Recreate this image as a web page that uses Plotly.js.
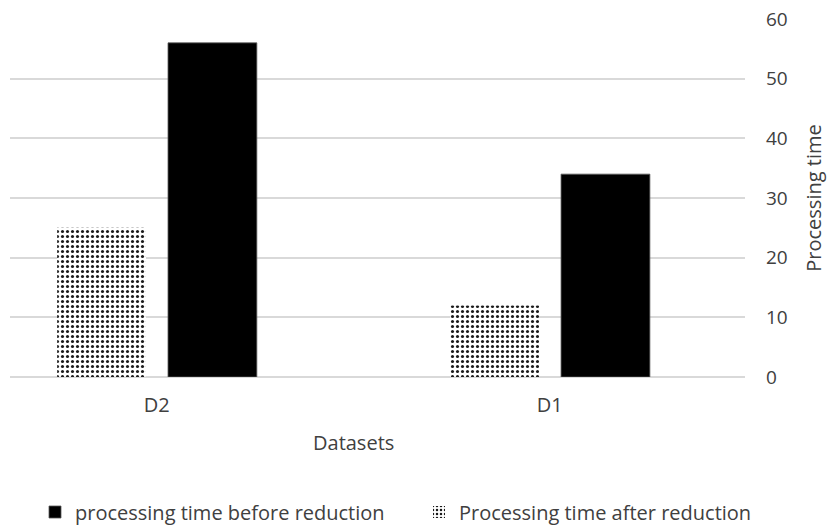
<!DOCTYPE html>
<html>
<head>
<meta charset="utf-8">
<script src="https://cdn.plot.ly/plotly-3.0.1.min.js"></script>
<style>
  html, body { margin: 0; padding: 0; background: #ffffff; }
  #chart { width: 829px; height: 526px; }
</style>
</head>
<body>
<div id="chart"></div>
<script>
// Processing time per dataset, before and after reduction
const datasets = ['D2', 'D1'];
const timeAfterReduction = [25, 12];
const timeBeforeReduction = [56, 34];
const yTicks = [0, 10, 20, 30, 40, 50, 60];

const textColor = '#404040';
const fontFamily = '"Open Sans", "Noto Sans", sans-serif';

const traces = [
  {
    type: 'bar',
    name: 'Processing time after reduction',
    x: datasets,
    y: timeAfterReduction,
    width: 0.226,
    offset: -0.253,
    legend: 'legend2',
    marker: {
      color: '#ffffff',
      line: { width: 0 },
      pattern: { shape: '.', fgcolor: '#1a1a1a', bgcolor: '#ffffff', size: 5, solidity: 0.3 }
    }
  },
  {
    type: 'bar',
    name: 'processing time before reduction',
    x: datasets,
    y: timeBeforeReduction,
    width: 0.226,
    offset: 0.029,
    legend: 'legend',
    marker: { color: '#000000', line: { color: '#595959', width: 0.8 } }
  }
];

// one legend box per series so both sit on a single row at fixed spots
function legendBox(xPx) {
  return {
    orientation: 'h',
    xref: 'container',
    yref: 'container',
    x: xPx / 829,
    xanchor: 'left',
    y: 14 / 526,
    yanchor: 'middle',
    bgcolor: 'rgba(0,0,0,0)',
    font: { family: fontFamily, size: 20, color: textColor }
  };
}

const layout = {
  width: 829,
  height: 526,
  paper_bgcolor: '#ffffff',
  plot_bgcolor: '#ffffff',
  font: { family: fontFamily, size: 19, color: textColor },
  margin: { l: 10, r: 84, t: 19, b: 149 },
  barmode: 'group',
  showlegend: true,
  legend: legendBox(35),
  legend2: legendBox(419),
  xaxis: {
    type: 'category',
    range: [-0.373, 1.497],
    showgrid: false,
    zeroline: false,
    showline: false,
    ticks: '',
    ticklabelstandoff: 14,
    tickfont: { family: fontFamily, size: 20, color: textColor },
    fixedrange: true
  },
  yaxis: {
    side: 'right',
    range: [0, 60],
    tickvals: yTicks,
    showgrid: true,
    gridcolor: '#d9d9d9',
    gridwidth: 2,
    zeroline: true,
    zerolinecolor: '#d9d9d9',
    zerolinewidth: 2,
    showline: false,
    ticks: '',
    ticklabelstandoff: 20,
    tickfont: { family: fontFamily, size: 19, color: textColor },
    title: { text: 'Processing time', font: { family: fontFamily, size: 20, color: textColor }, standoff: 20 },
    fixedrange: true
  },
  annotations: [
    {
      text: 'Datasets',
      xref: 'x',
      yref: 'paper',
      x: 0.5,
      y: -0.184,
      xanchor: 'center',
      yanchor: 'middle',
      showarrow: false,
      font: { family: fontFamily, size: 20, color: textColor }
    }
  ]
};

Plotly.newPlot('chart', traces, layout, { displayModeBar: false, staticPlot: true });
</script>
</body>
</html>
